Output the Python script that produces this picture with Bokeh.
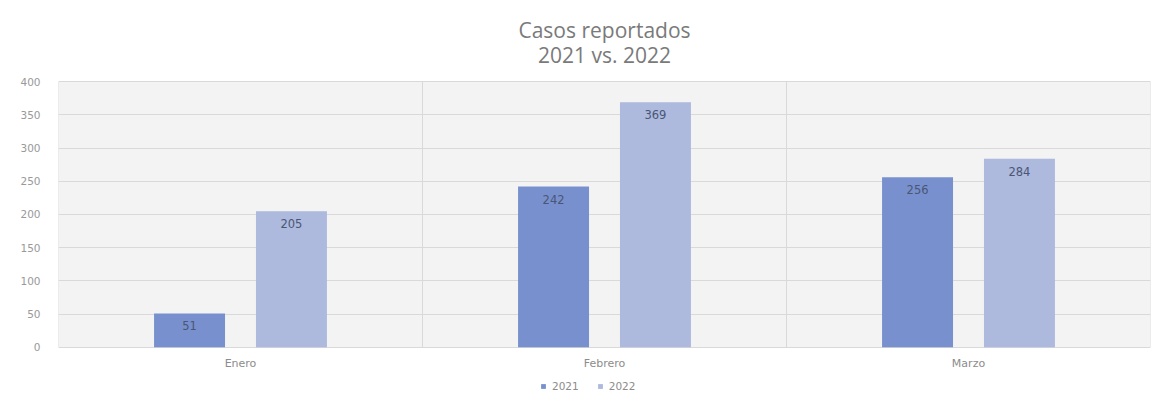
import numpy as np
from bokeh.plotting import figure
from bokeh.models import (ColumnDataSource, FixedTicker, Legend, LegendItem,
                          Range1d)
from bokeh.core.properties import value
from bokeh.embed import file_html
from bokeh.resources import INLINE

# ---- data ----
months = ["Enero", "Febrero", "Marzo"]
years = ["2021", "2022"]
casos_2021 = [51, 242, 256]
casos_2022 = [205, 369, 284]
y_ticks = [0, 50, 100, 150, 200, 250, 300, 350, 400]
title_lines = ["Casos reportados", "2021 vs. 2022"]

colors = ["#7891ce", "#adb9dd"]
TFONT = "Open Sans"
FONT = "DejaVu Sans"
GRID = "#d9d9d9"
idx = np.arange(len(months))
offset = 0.14
bar_w = 0.195
n = len(months)
ymax = y_ticks[-1]

# frame covers the whole figure; chart area is 0..ymax, extra room for texts
p = figure(width=1160, height=398, x_range=Range1d(0, n),
           y_range=Range1d(-74, 519), output_backend="svg", toolbar_location=None,
           min_border_left=58, min_border_right=10, min_border_top=2,
           min_border_bottom=2)
p.background_fill_color = "white"
p.border_fill_color = "white"
p.outline_line_color = None

# plot-area background
bg = p.quad(left=0, right=n, bottom=0, top=ymax, fill_color="#f3f3f3",
            line_color=None)
bg.level = "image"

# category separators
p.segment(x0=list(range(n + 1)), y0=0, x1=list(range(n + 1)), y1=ymax,
          line_color=GRID, line_width=1)

renderers = []
for series, dx, col in [(casos_2021, -offset, colors[0]), (casos_2022, offset, colors[1])]:
    src = ColumnDataSource(dict(x=idx + 0.5 + dx, top=series,
                                label=[str(v) for v in series]))
    r = p.vbar(x="x", top="top", bottom=0, width=bar_w, source=src,
               fill_color=col, line_color=None)
    renderers.append(r)
    p.text(x="x", y="top", text="label", source=src, y_offset=8,
           text_align="center", text_baseline="top", text_font=value(FONT),
           text_font_size="11.5px", text_color="#4a5675")

# month labels
p.text(x=list(idx + 0.5), y=0, text=months, y_offset=16, text_align="center",
       text_baseline="middle", text_font=value(FONT), text_font_size="11px",
       text_color="#8c8c8c")

# title lines
for line, dy in zip(title_lines, [-52, -27]):
    p.text(x=[n / 2], y=[ymax], text=[line], y_offset=dy, text_align="center",
           text_baseline="middle", text_font=value(TFONT), text_font_size="21px",
           text_color="#7a7a7a")

# grids
p.ygrid.ticker = FixedTicker(ticks=y_ticks)
p.ygrid.grid_line_color = GRID
p.xgrid.visible = False
p.xaxis.visible = False

# y axis
p.yaxis.ticker = FixedTicker(ticks=y_ticks)
p.yaxis.axis_line_color = None
p.yaxis.major_tick_line_color = None
p.yaxis.minor_tick_line_color = None
p.yaxis.major_label_text_font = FONT
p.yaxis.major_label_text_font_size = "10.5px"
p.yaxis.major_label_text_color = "#999999"
p.yaxis.major_label_standoff = 12

legend = Legend(items=[LegendItem(label=y, renderers=[r]) for y, r in zip(years, renderers)],
                orientation="horizontal", location=(482, 4),
                label_text_font=FONT, label_text_font_size="10.5px",
                label_text_color="#8c8c8c", glyph_width=6, glyph_height=6,
                spacing=18, padding=0, margin=0, border_line_color=None,
                background_fill_alpha=0, label_standoff=6, label_height=12)
p.add_layout(legend, "center")

open("out.html", "w").write(file_html(p, INLINE))
